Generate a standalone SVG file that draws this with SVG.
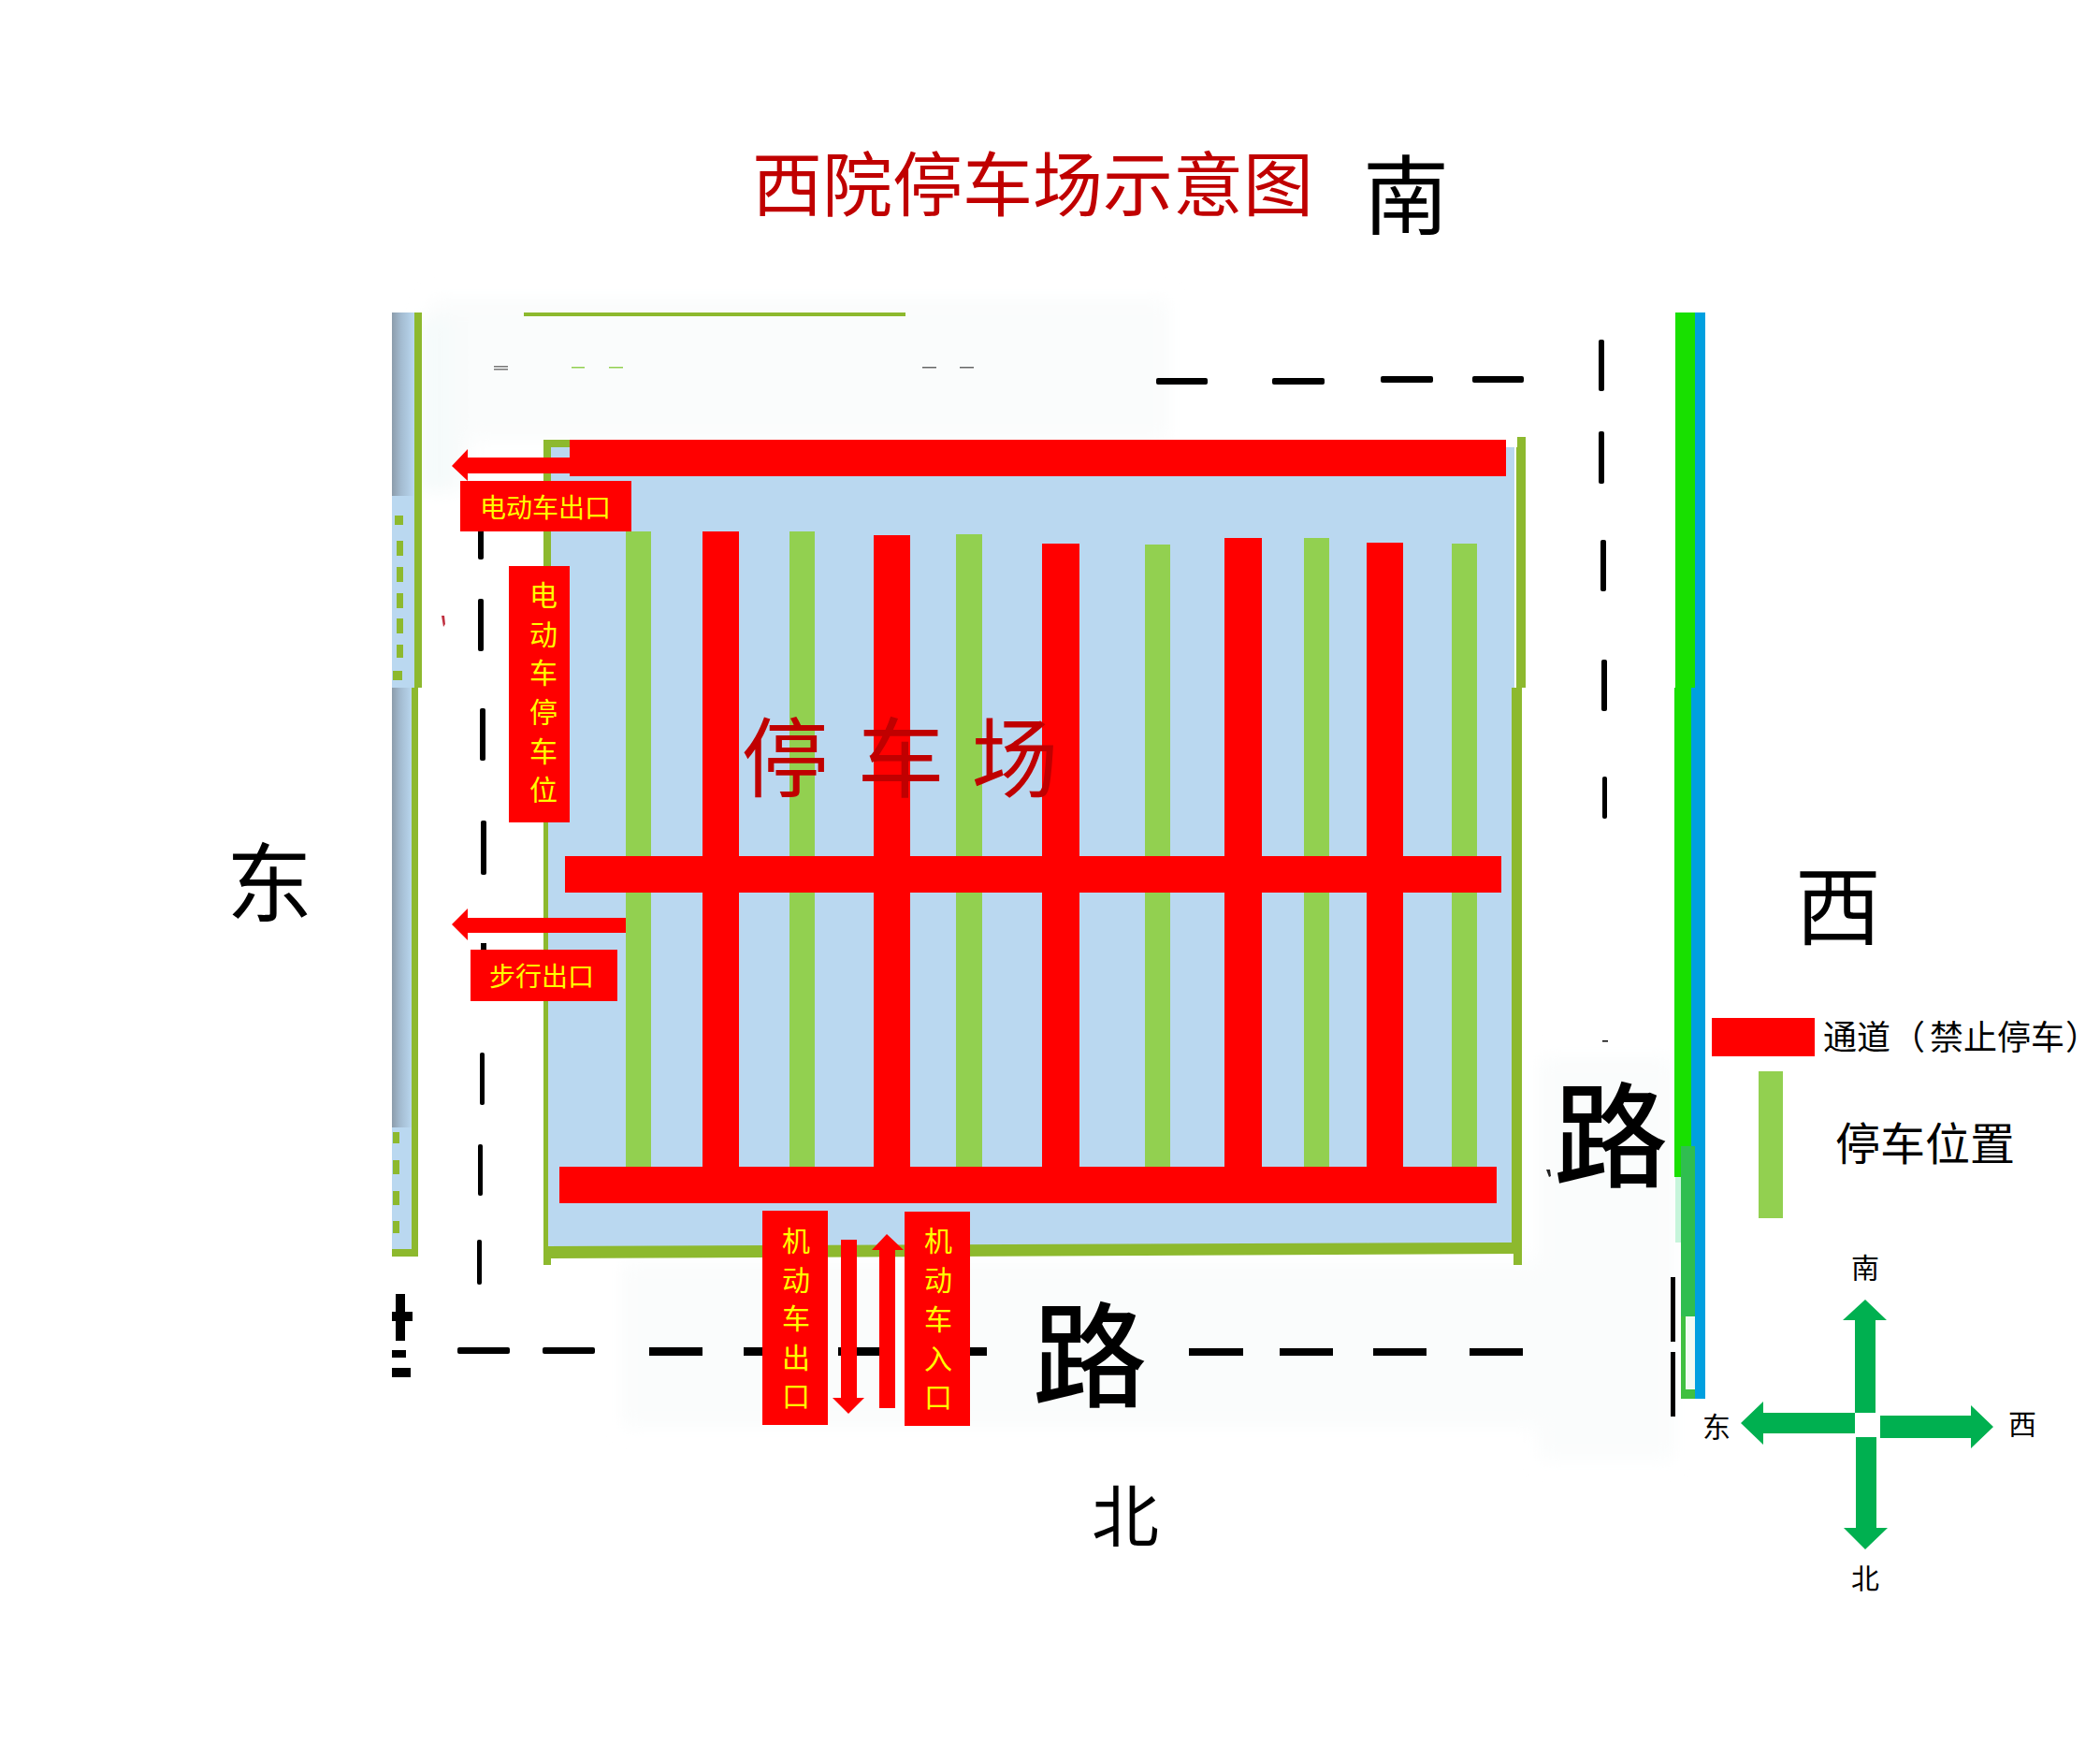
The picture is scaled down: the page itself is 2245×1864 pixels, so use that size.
<svg xmlns="http://www.w3.org/2000/svg" width="2245" height="1864" viewBox="0 0 2245 1864">
<style>
text{font-family:"Noto Sans CJK SC","Liberation Serif",sans-serif;text-anchor:middle}
.y{fill:#FFFF00;font-size:30px}
.k{fill:#000}
.dr{fill:#C00000}
.r{fill:#FF0000}
.g{fill:#92D050}
.b{fill:#000}
.o{fill:#8DB92E}
.c{fill:#00B050}
.t{fill:#FAFCFC}
</style>
<defs>
<linearGradient id="sg" x1="0" x2="1" y1="0" y2="0"><stop offset="0" stop-color="#8C9CAB"/><stop offset="0.4" stop-color="#A3BBD0"/><stop offset="1" stop-color="#BAD8F0"/></linearGradient>
<linearGradient id="fade" x1="0" x2="1" y1="0" y2="0"><stop offset="0" stop-color="#F2F9F9"/><stop offset="1" stop-color="#FAFCFC"/></linearGradient>
<filter id="soft" x="-10%" y="-10%" width="120%" height="120%"><feGaussianBlur stdDeviation="10"/></filter>
</defs>
<rect width="2245" height="1864" fill="#fff"/>
<g id="tint" filter="url(#soft)">
<rect class="t" x="460" y="320" width="790" height="150"/>
<rect x="451" y="340" width="50" height="185" fill="url(#fade)"/>
<rect class="t" x="665" y="1350" width="1000" height="175"/>
<rect class="t" x="1645" y="1130" width="145" height="430"/>
</g>
<g id="east-strip">
<rect x="419" y="334" width="24" height="196" fill="url(#sg)"/>
<rect x="419" y="530" width="24" height="205" fill="#BAD8F0"/>
<rect x="419" y="735" width="22" height="470" fill="url(#sg)"/>
<rect x="419" y="1205" width="22" height="130" fill="#BAD8F0"/>
<rect class="o" x="443" y="334" width="8" height="401"/>
<rect class="o" x="440" y="735" width="7" height="608"/>
<rect class="o" x="419" y="1335" width="28" height="8"/>
<g class="o">
<rect x="422" y="551" width="9" height="10"/><rect x="424" y="578" width="7" height="16"/><rect x="424" y="606" width="7" height="16"/><rect x="424" y="634" width="7" height="16"/><rect x="424" y="661" width="7" height="16"/><rect x="424" y="689" width="7" height="14"/><rect x="420" y="717" width="10" height="10"/>
<rect x="420" y="1210" width="7" height="12"/><rect x="420" y="1240" width="7" height="15"/><rect x="420" y="1273" width="7" height="15"/><rect x="420" y="1305" width="7" height="13"/>
</g>
</g>
<g id="north-top-marks">
<rect class="o" x="560" y="334" width="408" height="4"/>
<rect x="528" y="391" width="15" height="1.500" fill="#777"/><rect x="528" y="394" width="15" height="1.500" fill="#777"/>
<rect x="611" y="392" width="14" height="1.500" fill="#92D050"/><rect x="651" y="392" width="15" height="1.500" fill="#92D050"/>
<rect x="986" y="392" width="15" height="1.500" fill="#666"/><rect x="1026" y="392" width="15" height="1.500" fill="#666"/>
</g>
<g id="west-strip">
<rect x="1807" y="334" width="16" height="1161" fill="#00A0E0"/>
<rect x="1791" y="334" width="21" height="401" fill="#18E000"/>
<rect x="1790" y="735" width="18" height="523" fill="#18E000"/>
<rect x="1791" y="1258" width="8" height="70" fill="#8FEBB8" opacity="0.5"/>
<rect x="1797" y="1225" width="15" height="182" fill="#30BE50"/>
<rect x="1797" y="1407" width="5" height="88" fill="#40C040"/>
<rect x="1802" y="1407" width="10" height="78" fill="#F2FBF2"/>
<rect x="1802" y="1485" width="10" height="10" fill="#40C040"/>
<rect x="1812" y="1225" width="11" height="270" fill="#00A0E0"/>
</g>
<g id="roads">
<g class="b">
<rect x="1236" y="404" width="55" height="7" rx="2"/><rect x="1360" y="404" width="56" height="7" rx="2"/><rect x="1476" y="402" width="56" height="7" rx="2"/><rect x="1574" y="402" width="55" height="7" rx="2"/>
<rect x="1709" y="363" width="6" height="55" rx="2"/><rect x="1709" y="461" width="6" height="56" rx="2"/><rect x="1711" y="577" width="6" height="55" rx="2"/><rect x="1712" y="705" width="6" height="55" rx="2"/><rect x="1713" y="830" width="5" height="45" rx="2"/>
<rect x="1713" y="1112" width="6" height="1.500"/>
<rect x="511" y="540" width="6" height="58" rx="2"/><rect x="511" y="640" width="6" height="56" rx="2"/><rect x="513" y="757" width="6" height="56" rx="2"/><rect x="514" y="877" width="6" height="58" rx="2"/><rect x="514" y="1008" width="6" height="12"/><rect x="513" y="1125" width="5" height="56" rx="2"/><rect x="511" y="1223" width="5" height="55" rx="2"/><rect x="510" y="1325" width="5" height="48" rx="2"/>
<rect x="489" y="1440" width="56" height="7" rx="2"/><rect x="580" y="1440" width="56" height="7" rx="2"/>
<rect x="694" y="1440" width="57" height="9"/><rect x="795" y="1440" width="25" height="9"/><rect x="896" y="1440" width="45" height="9"/><rect x="1030" y="1440" width="25" height="9"/>
<rect x="1271" y="1441" width="58" height="8"/><rect x="1368" y="1441" width="57" height="8"/><rect x="1468" y="1441" width="57" height="8"/><rect x="1571" y="1441" width="57" height="8"/>
<rect x="1786" y="1365" width="5" height="69"/><rect x="1786" y="1445" width="5" height="69"/>
<rect x="423" y="1383" width="10" height="50"/><rect x="419" y="1402" width="22" height="10"/><rect x="419" y="1443" width="15" height="8"/><rect x="419" y="1462" width="20" height="10"/>
</g>
<path d="M472 658l2 12 2-3-1-9z" fill="#C03040"/>
<path d="M1653 1250l3 8 2-1-1-7z" fill="#222"/>
</g>
<g id="parking-area">
<rect x="589" y="478" width="1030" height="257" fill="#BAD8F0"/>
<rect x="586" y="735" width="1030" height="597" fill="#BAD8F0"/>
<path class="o" d="M581 470H1610V478H1622V467H1631V735H1627V1352H1618V1340L589 1345V1352H581V735Z M589 478V735H586V1332L1616 1328V735H1621V478Z" fill-rule="evenodd"/>
</g>
<g id="parking-bays" class="g">
<rect x="669" y="568" width="27" height="680"/><rect x="844" y="568" width="27" height="680"/><rect x="1022" y="571" width="28" height="677"/><rect x="1224" y="582" width="27" height="666"/><rect x="1394" y="575" width="27" height="673"/><rect x="1552" y="581" width="27" height="667"/>
</g>
<g id="aisles" class="r">
<rect x="751" y="568" width="39" height="680"/><rect x="934" y="572" width="39" height="676"/><rect x="1114" y="581" width="40" height="667"/><rect x="1309" y="575" width="40" height="673"/><rect x="1461" y="580" width="39" height="668"/>
<rect x="609" y="470" width="1001" height="39"/><rect x="604" y="915" width="1001" height="39"/><rect x="598" y="1247" width="1002" height="39"/>
</g>
<g id="arrows" class="r">
<path d="M483 498L500 480V489H612V506H500V514Z"/>
<path d="M483 988L500 971V981H669V997H500V1005Z"/>
<path d="M899 1325H916V1494H924L907 1511L890 1494H899Z"/>
<path d="M940 1505H957V1336H966L948 1319L932 1336H940Z"/>
</g>
<g id="label-ev-exit"><rect class="r" x="492" y="514" width="183" height="54"/><text class="y" x="583" y="553" style="font-size:28px">电动车出口</text></g>
<g id="label-ev-parking"><rect class="r" x="544" y="605" width="65" height="274"/><text class="y" x="581"><tspan x="581" y="647">电</tspan><tspan x="581" y="689">动</tspan><tspan x="581" y="730">车</tspan><tspan x="581" y="772">停</tspan><tspan x="581" y="814">车</tspan><tspan x="581" y="855">位</tspan></text></g>
<g id="label-walk-exit"><rect class="r" x="503" y="1015" width="157" height="55"/><text class="y" x="579" y="1054" style="font-size:28px">步行出口</text></g>
<g id="label-car-exit"><rect class="r" x="815" y="1294" width="70" height="229"/><text class="y" x="851"><tspan x="851" y="1337">机</tspan><tspan x="851" y="1379">动</tspan><tspan x="851" y="1420">车</tspan><tspan x="851" y="1462">出</tspan><tspan x="851" y="1503">口</tspan></text></g>
<g id="label-car-entry"><rect class="r" x="967" y="1295" width="70" height="229"/><text class="y" x="1003"><tspan x="1003" y="1337">机</tspan><tspan x="1003" y="1379">动</tspan><tspan x="1003" y="1421">车</tspan><tspan x="1003" y="1463">入</tspan><tspan x="1003" y="1504">口</tspan></text></g>
<g id="title"><text class="dr" x="1104" y="225" font-size="75">西院停车场示意图</text></g>
<g id="parking-label"><text class="dr" font-size="93" y="845"><tspan x="839">停</tspan><tspan x="963">车</tspan><tspan x="1085">场</tspan></text></g>
<g id="directions">
<text class="k" x="1503" y="243" font-size="92">南</text>
<text class="k" x="288" y="978" font-size="92">东</text>
<text class="k" x="1965" y="1003" font-size="92">西</text>
<text class="k" x="1203" y="1647" font-size="72">北</text>
</g>
<g id="roads-labels">
<text class="k" x="1722" y="1259" font-size="122" font-weight="500">路</text>
<text class="k" x="1165" y="1494" font-size="122" font-weight="500">路</text>
</g>
<g id="legend">
<rect class="r" x="1830" y="1088" width="110" height="41"/>
<text class="k" y="1122" font-size="36"><tspan x="1985">通道</tspan><tspan x="2040">（</tspan><tspan x="2135">禁止停车</tspan><tspan x="2226">）</tspan></text>
<rect class="g" x="1880" y="1145" width="26" height="157"/>
<text class="k" x="2058" y="1240" font-size="48">停车位置</text>
</g>
<g id="compass">
<path class="c" d="M1994 1389L2017 1411H2005V1510H1983V1411H1970Z"/>
<path class="c" d="M1861 1521L1885 1498V1510H1983V1532H1885V1544Z"/>
<path class="c" d="M2131 1525L2107 1502V1513H2010V1537H2107V1548Z"/>
<path class="c" d="M1994 1656L2018 1633H2006V1536H1984V1633H1971Z"/>
<text class="k" x="1994" y="1366" font-size="30">南</text>
<text class="k" x="1835" y="1536" font-size="30">东</text>
<text class="k" x="2162" y="1533" font-size="30">西</text>
<text class="k" x="1994" y="1698" font-size="30">北</text>
</g>
</svg>
